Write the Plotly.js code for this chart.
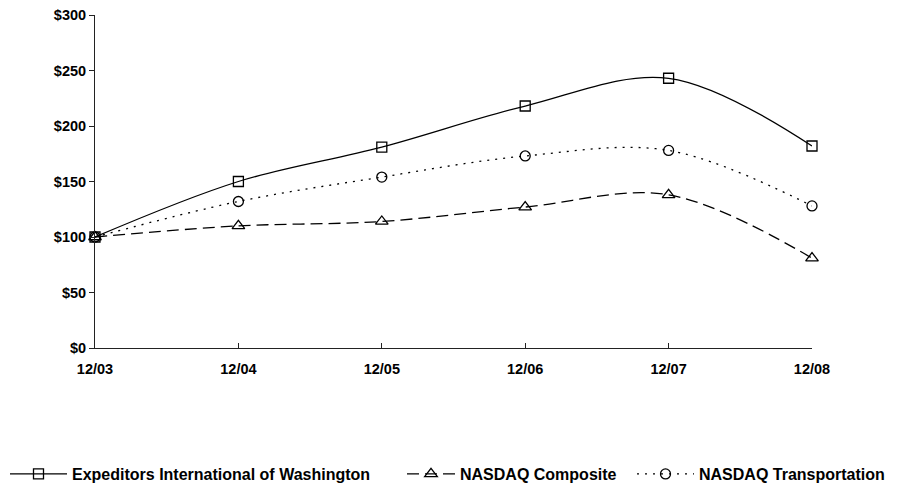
<!DOCTYPE html>
<html>
<head>
<meta charset="utf-8">
<script src="https://cdn.plot.ly/plotly-3.0.1.min.js"></script>
<style>html,body{margin:0;padding:0;background:#fff;}#chart{width:898px;height:487px;}</style>
</head>
<body>
<div id="chart"></div>
<script>
var categories = ["12/03", "12/04", "12/05", "12/06", "12/07", "12/08"];
var expeditors = [100, 150, 181, 218, 243, 182];
var nasdaqComposite = [100, 110, 114, 127, 138, 81];
var nasdaqTransport = [100, 132, 154, 173, 178, 128];
var yTickVals = [0, 50, 100, 150, 200, 250, 300];
var yTickText = ["$0", "$50", "$100", "$150", "$200", "$250", "$300"];
var seriesNames = ["Expeditors International of Washington", "NASDAQ Composite", "NASDAQ Transportation"];

var FF = "Liberation Sans, Arial, sans-serif";
var tickFont = {family: FF, size: 14.5, color: "#000", weight: "bold"};
var legFont = {family: FF, size: 16, color: "#000", weight: "bold"};

var traces = [
  {x: categories, y: expeditors, name: seriesNames[0], legend: "legend", type: "scatter", mode: "lines+markers",
   cliponaxis: false,
   line: {color: "#000", width: 1.3, shape: "spline", smoothing: 1},
   marker: {symbol: "square-open", size: 10, color: "#000", line: {width: 1.3}}},
  {x: categories, y: nasdaqComposite, name: seriesNames[1], legend: "legend2", type: "scatter", mode: "lines+markers",
   cliponaxis: false,
   line: {color: "#000", width: 1.3, shape: "spline", smoothing: 1, dash: "12px,6px"},
   marker: {symbol: "triangle-up-open", size: 11, color: "#000", line: {width: 1.3}}},
  {x: categories, y: nasdaqTransport, name: seriesNames[2], legend: "legend3", type: "scatter", mode: "lines+markers",
   cliponaxis: false,
   line: {color: "#000", width: 1.3, shape: "spline", smoothing: 1, dash: "2px,6px"},
   marker: {symbol: "circle-open", size: 10, color: "#000", line: {width: 1.3}}}
];

function leg(xpx, iw) {
  return {xref: "container", yref: "container", x: xpx / 898, xanchor: "left",
          y: 1 - 474 / 487, yanchor: "middle", orientation: "h",
          font: legFont, itemwidth: iw, bgcolor: "rgba(0,0,0,0)", borderwidth: 0};
}

var layout = {
  width: 898, height: 487,
  margin: {l: 95, r: 86, t: 15, b: 139},
  paper_bgcolor: "#fff", plot_bgcolor: "#fff",
  font: {family: FF, size: 13, color: "#000"},
  showlegend: true,
  legend: leg(5, 57),
  legend2: leg(402, 48),
  legend3: leg(632, 57),
  xaxis: {type: "category", range: [0, 5], showgrid: false, zeroline: false, showline: true,
          linecolor: "#222", linewidth: 1, ticks: "inside", ticklen: 5, tickcolor: "#222",
          ticklabelstandoff: 8, tickfont: tickFont, fixedrange: true},
  yaxis: {range: [0, 300], tickvals: yTickVals, ticktext: yTickText, showgrid: false, zeroline: false,
          showline: true, linecolor: "#222", linewidth: 1, ticks: "outside", ticklen: 5, tickcolor: "#222",
          tickfont: tickFont, fixedrange: true}
};

Plotly.newPlot("chart", traces, layout, {displayModeBar: false, staticPlot: true});
</script>
</body>
</html>
